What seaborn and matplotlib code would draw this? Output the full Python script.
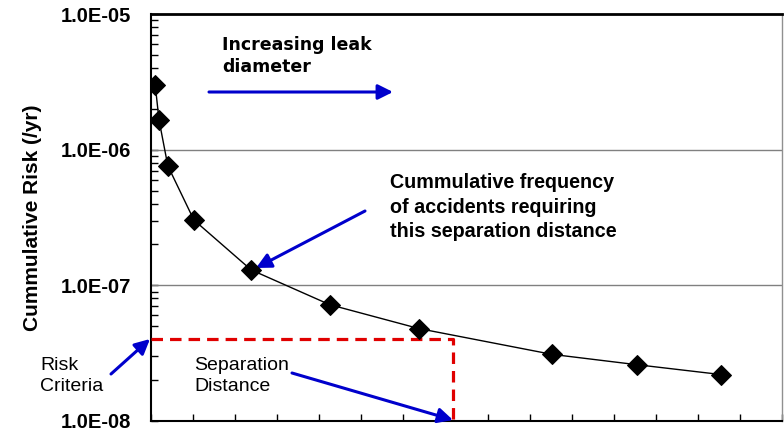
"""Cumulative risk vs separation distance (risk-based separation chart)."""

import matplotlib.pyplot as plt
import matplotlib.ticker as mticker
import seaborn as sns
import pandas as pd
import numpy as np

# separation distance (arbitrary units, axis has no labels) and cumulative risk
distance = [10, 19, 40, 102, 238, 425, 637, 953, 1155, 1355]
cum_risk = [3.0e-6, 1.66e-6, 7.6e-7, 3.03e-7, 1.30e-7, 7.2e-8, 4.8e-8, 3.1e-8, 2.6e-8, 2.2e-8]

risk_criteria = 4.0e-8
separation_distance = 718

x_ticks = list(range(0, 1501, 100))
y_major = [1e-8, 1e-7, 1e-6, 1e-5]
y_labels = ['1.0E-08', '1.0E-07', '1.0E-06', '1.0E-05']

sns.set_style('ticks')
plt.rcParams['font.family'] = ['Liberation Sans', 'DejaVu Sans']
for key in ['text.color', 'axes.labelcolor', 'xtick.color', 'ytick.color']:
    plt.rcParams[key] = 'black'

fig = plt.figure(figsize=(7.84, 4.32), dpi=100)
L, R, B, T = 151, 782, 421, 14
ax = fig.add_axes([L / 784, 1 - B / 432, (R - L) / 784, (B - T) / 432])


def frac(px, py):
    # pixel position -> axes fraction
    return ((px - L) / (R - L), (B - py) / (B - T))


df = pd.DataFrame({'distance': distance, 'risk': cum_risk})
sns.lineplot(data=df, x='distance', y='risk', ax=ax, color='black', lw=1.0,
             marker='D', markersize=10, markeredgecolor='black',
             markerfacecolor='black', zorder=5)

ax.set_yscale('log')
ax.set_xlim(0, 1500)
ax.set_ylim(1e-8, 1e-5)

# horizontal gridlines at inner decades
for yv in y_major[1:-1]:
    ax.axhline(yv, color='#808080', lw=1.0, zorder=1)

# risk criteria / separation distance box
ax.plot([0, separation_distance, separation_distance],
        [risk_criteria, risk_criteria, 1e-8],
        color='#e00000', lw=2.3, linestyle=(0, (3.6, 2.2)), zorder=4,
        clip_on=False)

ax.set_xticks(x_ticks)
ax.set_xticklabels([])
ax.set_yticks(y_major)
ax.set_yticklabels(y_labels)
ax.yaxis.set_minor_locator(mticker.LogLocator(base=10, subs=np.arange(2, 10)))
ax.yaxis.set_minor_formatter(mticker.NullFormatter())
ax.tick_params(axis='x', direction='in', length=5, width=1, color='black')
ax.tick_params(axis='y', which='both', direction='in', length=5, width=1,
               color='black', labelsize=14.5, pad=14)
for lab in ax.get_yticklabels():
    lab.set_fontweight('bold')

ax.set_xlabel('')
ax.set_ylabel('Cummulative Risk (/yr)', fontsize=15, fontweight='bold',
              labelpad=14)

for side in ['left', 'bottom', 'top']:
    ax.spines[side].set_color('black')
    ax.spines[side].set_linewidth(1.5)
ax.spines['top'].set_linewidth(2.0)
ax.spines['right'].set_color('#909090')
ax.spines['right'].set_linewidth(1.0)

arrow = dict(arrowstyle='-|>,head_length=0.9,head_width=0.45',
             color='#0000cc', lw=2.2, shrinkA=0, shrinkB=0)

ax.text(*frac(222, 36), 'Increasing leak\ndiameter', transform=ax.transAxes,
        family='DejaVu Sans', fontsize=12.5, fontweight='bold', va='top',
        linespacing=1.25)
ax.annotate('', xy=frac(393, 92), xytext=frac(209, 92),
            xycoords='axes fraction', textcoords='axes fraction',
            arrowprops=arrow)

ax.text(*frac(390, 173), 'Cummulative frequency\nof accidents requiring\n'
        'this separation distance', transform=ax.transAxes,
        fontsize=14.2, fontweight='bold', va='top', linespacing=1.38)
ax.annotate('', xy=frac(256, 268), xytext=frac(365, 211),
            xycoords='axes fraction', textcoords='axes fraction',
            arrowprops=arrow)

ax.text(*frac(40, 357), 'Risk\nCriteria', transform=ax.transAxes,
        fontsize=14, va='top', linespacing=1.3)
ax.annotate('', xy=frac(150, 339), xytext=frac(111, 374),
            xycoords='axes fraction', textcoords='axes fraction',
            arrowprops=arrow, annotation_clip=False)

ax.text(*frac(194, 357), 'Separation\nDistance', transform=ax.transAxes,
        fontsize=14, va='top', linespacing=1.3)
ax.annotate('', xy=frac(453, 420), xytext=frac(292, 373),
            xycoords='axes fraction', textcoords='axes fraction',
            arrowprops=arrow, annotation_clip=False)

fig.savefig('out.png', dpi=100)
plt.close(fig)
